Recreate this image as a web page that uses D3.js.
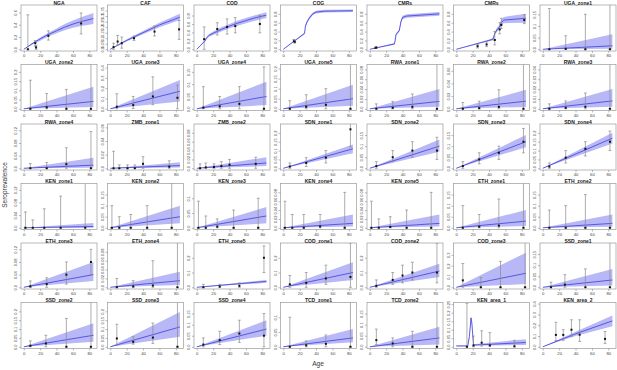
<!DOCTYPE html>
<html>
<head>
<meta charset="utf-8">
<script src="https://d3js.org/d3.v7.min.js"></script>
<style>
  body { margin: 0; background: #fff; }
  text { font-family: "Liberation Sans", Arial, sans-serif; }
</style>
</head>
<body>
<div id="chart"></div>
<script>
// Data
const panelNames = [
  "NGA", "CAF", "COD", "COG", "CMRs", "CMRs", "UGA_zone1",
  "UGA_zone2", "UGA_zone3", "UGA_zone4", "UGA_zone5", "RWA_zone1", "RWA_zone2", "RWA_zone3",
  "RWA_zone4", "ZMB_zone1", "ZMB_zone2", "SDN_zone1", "SDN_zone2", "SDN_zone3", "SDN_zone4",
  "KEN_zone1", "KEN_zone2", "KEN_zone3", "KEN_zone4", "KEN_zone5", "ETH_zone1", "ETH_zone2",
  "ETH_zone3", "ETH_zone4", "ETH_zone5", "COD_zone1", "COD_zone2", "COD_zone3", "SSD_zone1",
  "SSD_zone2", "SSD_zone3", "SSD_zone4", "TCD_zone1", "TCD_zone2", "KEN_area_1", "KEN_area_2"
];

const ageTicks = [0, 20, 40, 60, 80];

// top of each y range
const yTops = [
  0.72, 0.40, 1.05, 1.0, 1.0, 1.0, 0.19,
  0.24, 0.43, 0.18, 0.22, 0.09, 0.07, 0.045,
  0.14, 0.065, 0.10, 0.25, 0.20, 0.20, 0.25,
  0.14, 0.20, 0.15, 0.10, 0.10, 0.20, 0.20,
  0.14, 0.10, 0.30, 0.30, 0.30, 0.41, 0.20,
  0.25, 0.25, 0.20, 0.15, 0.20, 0.26, 0.41
];

const yTickSets = [
  [0, 0.2, 0.4, 0.6], [0, 0.05, 0.1, 0.15, 0.2, 0.25, 0.3, 0.35], [0, 0.2, 0.4, 0.6, 0.8], [0, 0.2, 0.4, 0.6, 0.8],
  [0, 0.2, 0.4, 0.6, 0.8], [0, 0.2, 0.4, 0.6, 0.8], [0, 0.05, 0.1, 0.15],
  [0, 0.05, 0.1, 0.15, 0.2], [0, 0.1, 0.2, 0.3, 0.4], [0, 0.05, 0.1, 0.15], [0, 0.05, 0.1, 0.15, 0.2],
  [0, 0.02, 0.04, 0.06, 0.08], [0, 0.02, 0.04, 0.06], [0, 0.01, 0.02, 0.03, 0.04],
  [0, 0.04, 0.08, 0.12], [0, 0.02, 0.04, 0.06], [0, 0.02, 0.04, 0.06, 0.08], [0, 0.05, 0.1, 0.15, 0.2],
  [0, 0.05, 0.1, 0.15], [0, 0.05, 0.1, 0.15], [0, 0.05, 0.1, 0.15, 0.2],
  [0, 0.04, 0.08, 0.12], [0, 0.05, 0.1, 0.15], [0, 0.05, 0.1], [0, 0.02, 0.04, 0.06, 0.08],
  [0, 0.02, 0.04, 0.06, 0.08], [0, 0.05, 0.1, 0.15], [0, 0.05, 0.1, 0.15],
  [0, 0.04, 0.08, 0.12], [0, 0.02, 0.04, 0.06, 0.08], [0, 0.1, 0.2], [0, 0.1, 0.2], [0, 0.1, 0.2],
  [0, 0.1, 0.2, 0.3], [0, 0.05, 0.1, 0.15],
  [0, 0.05, 0.1, 0.15, 0.2], [0, 0.05, 0.1, 0.15, 0.2], [0, 0.05, 0.1, 0.15], [0, 0.05, 0.1],
  [0, 0.05, 0.1, 0.15], [0, 0.05, 0.1, 0.15, 0.2, 0.25], [0, 0.1, 0.2, 0.3, 0.4]
];

// observed points: [age, value, lower, upper]
const points = [
  [[5, 0.0, 0, 0.56], [14, 0.10, 0.05, 0.14], [15, 0.03, 0, 0.06], [30, 0.22, 0.15, 0.30], [70, 0.42, 0.25, 0.59]],
  [[4, 0.02, 0, 0.055], [9, 0.07, 0.04, 0.125], [14, 0.055, 0.01, 0.11], [29, 0.10, 0.08, 0.12], [54, 0.16, 0.12, 0.21], [84, 0.18, 0.09, 0.26]],
  [[9, 0.24, 0, 0.53], [25, 0.48, 0.34, 0.63], [37, 0.53, 0.36, 0.72], [47, 0.55, 0.39, 0.75], [77, 0.6, 0.39, 0.8]],
  [[13, 0.19, 0.16, 0.22], [14, 0.17, 0.14, 0.2]],
  [[7, 0.03, 0.02, 0.05], [8, 0.04, 0.03, 0.05]],
  [[26, 0.07, 0.03, 0.11], [37, 0.11, 0.06, 0.17], [47, 0.21, 0.1, 0.4], [53, 0.45, 0.35, 0.6], [55, 0.55, 0.47, 0.7], [83, 0.66, 0.58, 0.78]],
  [[8, 0, 0, 0.175], [28, 0.002, 0, 0.058], [52, 0, 0, 0.15], [82, 0, 0, 0.3]],

  [[8, 0, 0, 0.155], [28, 0.008, 0, 0.083], [52, 0, 0, 0.105], [82, 0, 0, 0.3]],
  [[8, 0.02, 0, 0.146], [28, 0.036, 0.003, 0.12], [52, 0.12, 0.04, 0.31], [82, 0.107, 0, 0.23]],
  [[8, 0.005, 0, 0.09], [28, 0.01, 0, 0.05], [52, 0.02, 0, 0.09], [82, 0, 0, 0.17]],
  [[8, 0, 0, 0.04], [28, 0.01, 0, 0.07], [52, 0.02, 0, 0.1], [82, 0, 0, 0.3]],
  [[8, 0, 0, 0.01], [28, 0.002, 0, 0.015], [52, 0.004, 0, 0.03], [82, 0, 0, 0.12]],
  [[8, 0, 0, 0.01], [28, 0.001, 0, 0.012], [52, 0.003, 0, 0.03], [82, 0, 0, 0.1]],
  [[8, 0, 0, 0.005], [28, 0.001, 0, 0.008], [52, 0.002, 0, 0.016], [82, 0, 0, 0.06]],

  [[8, 0, 0, 0.015], [28, 0, 0, 0.018], [52, 0.013, 0, 0.065], [82, 0, 0, 0.116]],
  [[4, 0, 0, 0.025], [11, 0, 0, 0.005], [21, 0, 0, 0.005], [30, 0, 0, 0.005], [40, 0.0066, 0, 0.017], [72, 0.0024, 0, 0.011]],
  [[4, 0, 0, 0.01], [11, 0.002, 0, 0.012], [21, 0.003, 0, 0.01], [30, 0.005, 0, 0.015], [40, 0.008, 0, 0.02], [72, 0.01, 0, 0.025]],
  [[8, 0.01, 0, 0.03], [28, 0.03, 0.01, 0.06], [52, 0.06, 0.03, 0.1], [82, 0.22, 0.12, 0.35]],
  [[8, 0.01, 0, 0.03], [28, 0.05, 0.03, 0.08], [52, 0.08, 0.05, 0.12], [82, 0.08, 0.04, 0.14]],
  [[8, 0.01, 0, 0.03], [28, 0.04, 0.02, 0.07], [52, 0.07, 0.04, 0.1], [82, 0.12, 0.07, 0.18]],
  [[8, 0.01, 0, 0.03], [28, 0.06, 0.03, 0.1], [52, 0.11, 0.07, 0.15], [82, 0.15, 0.1, 0.21]],

  [[2, 0, 0, 0.05], [11, 0, 0, 0.025], [25, 0, 0, 0.06], [45, 0, 0, 0.1], [75, 0, 0, 0.2]],
  [[2, 0, 0, 0.1], [11, 0, 0, 0.05], [25, 0, 0, 0.06], [45, 0, 0, 0.1], [75, 0, 0, 0.2]],
  [[2, 0, 0, 0.09], [11, 0, 0, 0.04], [25, 0.004, 0, 0.03], [45, 0, 0, 0.06], [75, 0, 0, 0.1]],
  [[2, 0, 0, 0.06], [11, 0, 0, 0.03], [25, 0, 0, 0.03], [45, 0.003, 0, 0.03], [75, 0, 0, 0.08]],
  [[2, 0, 0, 0.06], [11, 0, 0, 0.02], [25, 0.002, 0, 0.025], [45, 0, 0, 0.04], [75, 0, 0, 0.08]],
  [[8, 0, 0, 0.1], [28, 0.005, 0, 0.06], [52, 0.01, 0, 0.13], [82, 0, 0, 0.25]],
  [[8, 0, 0, 0.08], [28, 0, 0, 0.1], [52, 0, 0, 0.15], [82, 0, 0, 0.25]],

  [[8, 0.003, 0, 0.02], [28, 0.01, 0, 0.03], [52, 0.04, 0.01, 0.08], [82, 0.08, 0.04, 0.12]],
  [[8, 0, 0, 0.02], [28, 0.002, 0, 0.015], [52, 0.004, 0, 0.06], [82, 0, 0, 0.12]],
  [[8, 0, 0, 0.02], [28, 0.005, 0, 0.02], [52, 0.01, 0, 0.03], [82, 0.2, 0.1, 0.28]],
  [[8, 0.02, 0, 0.08], [28, 0.03, 0, 0.1], [52, 0.06, 0.02, 0.15], [82, 0.07, 0, 0.3]],
  [[8, 0.01, 0, 0.05], [28, 0.05, 0.02, 0.1], [40, 0.08, 0.03, 0.15], [52, 0.1, 0.05, 0.17], [82, 0.1, 0.03, 0.3]],
  [[8, 0.064, 0, 0.22], [30, 0, 0, 0.09], [54, 0, 0, 0.24], [84, 0, 0, 0.5]],
  [[10, 0, 0, 0.023], [27, 0.012, 0, 0.057], [52, 0, 0, 0.083], [82, 0, 0, 0.25]],

  [[8, 0.006, 0, 0.033], [27, 0.019, 0, 0.065], [52, 0, 0, 0.16], [82, 0, 0, 0.3]],
  [[8, 0.047, 0.009, 0.127], [28, 0.028, 0.015, 0.056], [52, 0.052, 0.019, 0.134], [82, 0, 0, 0.3]],
  [[8, 0.01, 0, 0.04], [28, 0.03, 0.01, 0.07], [52, 0.06, 0.02, 0.12], [82, 0.05, 0, 0.15]],
  [[8, 0, 0, 0.1], [28, 0.005, 0, 0.02], [52, 0.01, 0, 0.04], [82, 0, 0, 0.2]],
  [[8, 0.03, 0.01, 0.08], [28, 0.015, 0, 0.04], [52, 0, 0, 0.07], [82, 0, 0, 0.25]],
  [[13, 0, 0, 0.255], [21, 0.008, 0, 0.063], [31, 0.024, 0.004, 0.094], [41, 0.008, 0.004, 0.083], [71, 0.003, 0, 0.038]],
  [[16, 0.11, 0.058, 0.227], [25, 0.11, 0.06, 0.158], [35, 0.158, 0.097, 0.25], [45, 0.112, 0.05, 0.25], [76, 0.073, 0.03, 0.142]]
];

// fitted curves: [age, mean, lower, upper]
const curves = [
  [[0, 0, 0, 0], [10, 0.09, 0.07, 0.1], [20, 0.17, 0.14, 0.19], [30, 0.24, 0.21, 0.27], [40, 0.3, 0.26, 0.34], [50, 0.36, 0.31, 0.41], [60, 0.41, 0.35, 0.47], [70, 0.45, 0.38, 0.52], [85, 0.5, 0.41, 0.59]],
  [[0, 0, 0, 0], [20, 0.08, 0.07, 0.09], [40, 0.15, 0.135, 0.165], [60, 0.22, 0.2, 0.24], [85, 0.29, 0.265, 0.32]],
  [[0, 0, 0, 0], [5, 0.1, 0.09, 0.11], [10, 0.2, 0.18, 0.22], [12, 0.27, 0.24, 0.3], [15, 0.33, 0.3, 0.36], [20, 0.38, 0.34, 0.42], [30, 0.47, 0.42, 0.52], [40, 0.55, 0.5, 0.6], [50, 0.62, 0.56, 0.68], [60, 0.68, 0.62, 0.74], [70, 0.74, 0.67, 0.8], [85, 0.81, 0.74, 0.88]],
  [[0, 0, 0, 0], [26, 0.36, 0.34, 0.38], [27, 0.52, 0.49, 0.55], [29, 0.62, 0.59, 0.65], [32, 0.71, 0.68, 0.74], [36, 0.8, 0.77, 0.83], [40, 0.84, 0.81, 0.87], [50, 0.86, 0.83, 0.89], [85, 0.87, 0.84, 0.9]],
  [[0, 0, 0, 0], [30, 0.12, 0.1, 0.14], [31, 0.2, 0.18, 0.23], [32, 0.33, 0.3, 0.36], [34, 0.38, 0.35, 0.41], [36, 0.42, 0.39, 0.45], [38, 0.62, 0.59, 0.66], [40, 0.72, 0.68, 0.76], [45, 0.75, 0.71, 0.79], [85, 0.8, 0.76, 0.84]],
  [[0, 0, 0, 0], [40, 0.2, 0.18, 0.22], [45, 0.23, 0.2, 0.26], [47, 0.36, 0.32, 0.4], [50, 0.45, 0.4, 0.5], [53, 0.5, 0.45, 0.56], [55, 0.6, 0.54, 0.67], [58, 0.66, 0.59, 0.73], [85, 0.7, 0.6, 0.8]],
  [[0, 0, 0, 0], [85, 0.015, 0.002, 0.065]],

  [[0, 0, 0, 0], [85, 0.04, 0.01, 0.12]],
  [[0, 0, 0, 0], [85, 0.17, 0.07, 0.28]],
  [[0, 0, 0, 0], [85, 0.05, 0.015, 0.11]],
  [[0, 0, 0, 0], [85, 0.05, 0.015, 0.12]],
  [[0, 0, 0, 0], [85, 0.015, 0.004, 0.04]],
  [[0, 0, 0, 0], [85, 0.012, 0.003, 0.03]],
  [[0, 0, 0, 0], [85, 0.008, 0.002, 0.02]],

  [[0, 0, 0, 0], [85, 0.01, 0.002, 0.033]],
  [[0, 0, 0, 0], [85, 0.004, 0.001, 0.009]],
  [[0, 0, 0, 0], [85, 0.012, 0.005, 0.025]],
  [[0, 0, 0, 0], [85, 0.11, 0.085, 0.135]],
  [[0, 0, 0, 0], [85, 0.1, 0.075, 0.13]],
  [[0, 0, 0, 0], [85, 0.12, 0.095, 0.15]],
  [[0, 0, 0, 0], [85, 0.17, 0.14, 0.2]],

  [[0, 0, 0, 0], [85, 0.004, 0, 0.015]],
  [[0, 0, 0, 0], [85, 0.05, 0.02, 0.1]],
  [[0, 0, 0, 0], [85, 0.04, 0.015, 0.07]],
  [[0, 0, 0, 0], [85, 0.01, 0.003, 0.03]],
  [[0, 0, 0, 0], [85, 0.01, 0.003, 0.03]],
  [[0, 0, 0, 0], [85, 0.03, 0.008, 0.08]],
  [[0, 0, 0, 0], [85, 0.02, 0.005, 0.06]],

  [[0, 0, 0, 0], [85, 0.04, 0.02, 0.08]],
  [[0, 0, 0, 0], [85, 0.015, 0.005, 0.035]],
  [[0, 0, 0, 0], [85, 0.04, 0.03, 0.05]],
  [[0, 0, 0, 0], [85, 0.1, 0.05, 0.17]],
  [[0, 0, 0, 0], [85, 0.11, 0.07, 0.16]],
  [[0, 0, 0, 0], [85, 0.13, 0.03, 0.32]],
  [[0, 0, 0, 0], [85, 0.033, 0.008, 0.083]],

  [[0, 0, 0, 0], [85, 0.065, 0.028, 0.133]],
  [[0, 0, 0, 0], [85, 0.112, 0.056, 0.196]],
  [[0, 0, 0, 0], [85, 0.08, 0.05, 0.12]],
  [[0, 0, 0, 0], [85, 0.03, 0.015, 0.06]],
  [[0, 0, 0, 0], [85, 0.04, 0.01, 0.09]],
  [[0, 0.005, 0.003, 0.007], [14, 0.005, 0.003, 0.008], [16, 0.06, 0.05, 0.07], [18, 0.17, 0.16, 0.18], [19, 0.14, 0.13, 0.15], [21, 0.01, 0.008, 0.015], [30, 0.012, 0.008, 0.02], [85, 0.025, 0.01, 0.045]],
  [[0, 0, 0, 0], [40, 0.12, 0.1, 0.14], [85, 0.24, 0.19, 0.29]]
];

// Layout
const width = 617;
const height = 370;
const boxW = 76;
const boxH = 46;
const colStep = 86.5;
const rowStep = 59.5;
const left0 = 21;
const top0 = 5;

const svg = d3.select("#chart")
  .append("svg")
  .attr("width", width)
  .attr("height", height);

const x = d3.scaleLinear().domain([-3.4, 89.4]).range([0, boxW]);

const fmt = v => {
  const s = String(v);
  return s.includes(".") ? s : v.toFixed(1);
};

panelNames.forEach((name, i) => {
  const col = i % 7;
  const row = Math.floor(i / 7);
  const g = svg.append("g")
    .attr("transform", `translate(${left0 + col * colStep},${top0 + row * rowStep})`);

  const top = yTops[i];
  const y = d3.scaleLinear().domain([-top * 0.0385, top]).range([boxH, 0]);

  const clipId = `clip${i}`;
  g.append("clipPath").attr("id", clipId)
    .append("rect").attr("width", boxW).attr("height", boxH);

  const plot = g.append("g").attr("clip-path", `url(#${clipId})`);

  // band
  plot.append("path")
    .datum(curves[i])
    .attr("fill", "#b8b8f6")
    .attr("d", d3.area().x(d => x(d[0])).y0(d => y(d[2])).y1(d => y(d[3])));

  plot.append("path")
    .datum(curves[i])
    .attr("fill", "none")
    .attr("stroke", "#4c4ce0")
    .attr("stroke-width", 0.9)
    .attr("d", d3.line().x(d => x(d[0])).y(d => y(d[1])));

  // error bars
  const bars = plot.selectAll(".bar").data(points[i]).join("g");
  bars.append("line")
    .attr("x1", d => x(d[0])).attr("x2", d => x(d[0]))
    .attr("y1", d => y(d[2])).attr("y2", d => y(d[3]))
    .attr("stroke", "#8a8a8a").attr("stroke-width", 0.7);
  bars.append("line")
    .attr("x1", d => x(d[0]) - 1.4).attr("x2", d => x(d[0]) + 1.4)
    .attr("y1", d => y(d[3])).attr("y2", d => y(d[3]))
    .attr("stroke", "#8a8a8a").attr("stroke-width", 0.7);
  bars.append("line")
    .attr("x1", d => x(d[0]) - 1.4).attr("x2", d => x(d[0]) + 1.4)
    .attr("y1", d => y(d[2])).attr("y2", d => y(d[2]))
    .attr("stroke", "#8a8a8a").attr("stroke-width", 0.7);
  bars.append("rect")
    .attr("x", d => x(d[0]) - 1).attr("y", d => y(d[1]) - 1)
    .attr("width", 2).attr("height", 2)
    .attr("fill", "#111");

  // box
  g.append("rect")
    .attr("width", boxW).attr("height", boxH)
    .attr("fill", "none").attr("stroke", "#9a9a9a").attr("stroke-width", 0.7);

  // x axis
  const xa = g.append("g")
    .attr("transform", `translate(0,${boxH})`)
    .call(d3.axisBottom(x).tickValues(ageTicks).tickSize(2).tickPadding(1.5));
  xa.select(".domain").remove();
  xa.selectAll("line").attr("stroke", "#888").attr("stroke-width", 0.6);
  xa.selectAll("text").attr("font-size", 4.2).attr("fill", "#444");

  // y axis
  const ya = g.append("g")
    .call(d3.axisLeft(y).tickValues(yTickSets[i]).tickSize(2).tickFormat(fmt));
  ya.select(".domain").remove();
  ya.selectAll("line").attr("stroke", "#888").attr("stroke-width", 0.6);
  ya.selectAll("text")
    .attr("font-size", 4)
    .attr("fill", "#444")
    .attr("text-anchor", "middle")
    .attr("x", 0)
    .attr("y", -4)
    .attr("dy", 0)
    .attr("transform", "rotate(-90)");

  // title
  g.append("text")
    .attr("x", boxW / 2)
    .attr("y", -0.5)
    .attr("text-anchor", "middle")
    .attr("font-size", 5)
    .attr("font-weight", "bold")
    .attr("fill", "#222")
    .text(name);
});

svg.append("text")
  .attr("transform", "translate(7,185) rotate(-90)")
  .attr("text-anchor", "middle")
  .attr("font-size", 6.5)
  .attr("fill", "#333")
  .text("Seroprevalence");

svg.append("text")
  .attr("x", 318)
  .attr("y", 366)
  .attr("text-anchor", "middle")
  .attr("font-size", 6.5)
  .attr("fill", "#333")
  .text("Age");
</script>
</body>
</html>
